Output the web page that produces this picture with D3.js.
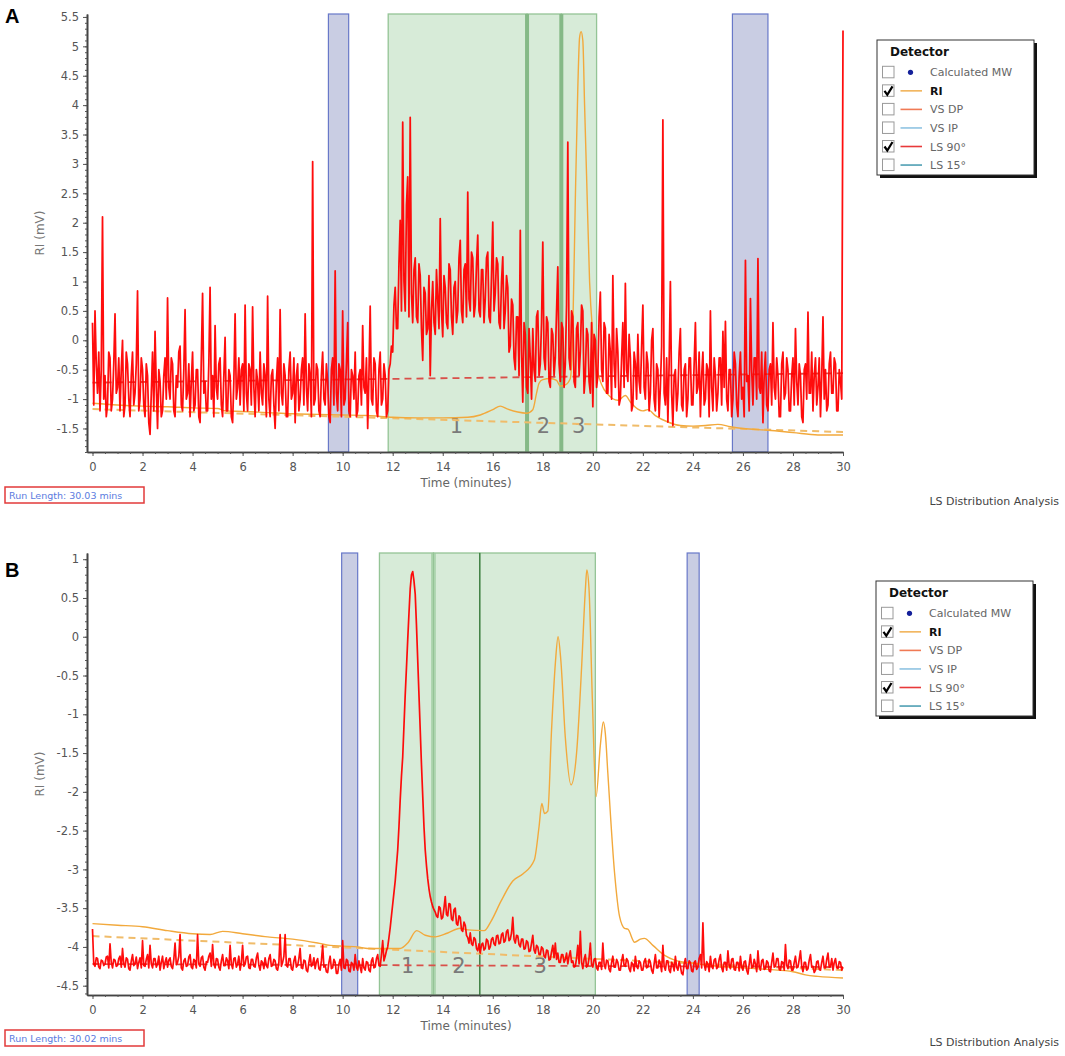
<!DOCTYPE html>
<html><head><meta charset="utf-8">
<script src="https://cdn.jsdelivr.net/npm/d3@7"></script>
<style>body{margin:0;background:#fff}svg{display:block}</style>
</head><body>
<script>
// ---------- data ----------
const xTicks = [0,2,4,6,8,10,12,14,16,18,20,22,24,26,28,30];
const yTicksA = [-1.5,-1,-0.5,0,0.5,1,1.5,2,2.5,3,3.5,4,4.5,5,5.5];
const yTicksB = [-4.5,-4,-3.5,-3,-2.5,-2,-1.5,-1,-0.5,0,0.5,1];
const sampleStep = 0.05; // minutes between LS 90° samples

// Panel A, LS 90° (mV), one row per minute, samples every 0.05 min
const ls90A = [
 0.3,-1.1,0.5,-0.4,-0.9,-0.2,-1.2,-0.5,2.1,-1.0,-0.6,-1.3,-1.1,-0.2,-0.3,-1.2,-1.0,-0.4,0.45,-0.9,
 -0.8,-0.3,-1.2,-0.5,0.0,-1.3,-1.1,-0.2,-0.4,-1.0,-1.3,-0.6,-0.2,-1.1,-0.9,-0.4,0.84,-1.2,-1.0,-0.3,
 -0.5,-1.1,-1.3,-0.4,-0.6,-1.4,-1.6,-0.9,-0.2,-1.2,0.15,-0.8,-1.5,-0.5,-0.7,-1.3,-1.2,-0.6,-0.3,-1.0,
 0.72,-0.8,-1.0,-0.3,-0.4,-1.2,-1.3,-0.6,-0.8,-0.2,-0.1,-1.1,-1.2,-0.5,0.52,-1.0,-0.9,-0.4,-1.3,-0.7,
 -0.2,-1.2,-1.1,-0.5,-0.5,-1.3,-1.4,-0.3,0.8,-0.9,-0.7,-1.2,-1.2,-0.4,0.9,-1.0,-0.6,-1.3,0.25,-0.8,
 -1.0,-0.4,-0.3,-1.1,-1.3,-0.6,0.05,-1.2,-1.2,-0.5,-0.6,-1.3,-1.4,-0.7,0.45,-1.0,-0.8,-0.3,-1.1,-0.5,
 -0.4,-1.2,0.6,-0.9,-1.2,-0.4,-0.5,-1.1,0.57,-0.8,-1.3,-0.5,-0.7,-1.2,-0.2,-0.9,-1.1,-0.4,-0.6,-1.3,
 0.75,-1.0,-1.3,-0.6,-0.5,-1.1,-1.5,-0.7,-0.3,-1.2,0.52,-0.9,-1.1,-0.4,-0.6,-1.3,-1.3,-0.5,-0.2,-1.0,
 -0.9,-0.3,-1.4,-0.6,-0.4,-1.2,-1.0,-0.5,-0.3,-1.1,0.45,-0.8,-1.2,-0.4,-0.6,-1.3,3.04,-1.1,-1.0,-0.4,
 -0.5,-1.2,-1.3,-0.6,-0.2,-1.0,-1.1,-0.4,-0.7,-1.3,-1.4,-0.5,-0.3,-1.1,1.18,-0.9,-1.2,-0.4,-0.5,-1.3,
 0.5,-1.1,-1.0,-0.4,0.3,-1.2,-1.3,-0.5,-0.6,-1.0,-0.2,-1.3,-1.2,-0.6,-0.5,-1.1,0.25,-0.8,-0.9,-0.3,
 -1.5,-0.6,0.58,-1.0,-1.1,-0.3,-0.4,-1.2,-1.3,-0.5,-0.2,-1.1,-1.0,-0.4,-0.6,-1.3,-1.2,-0.5,-0.4,-0.1,
 -0.2,0.6,0.9,0.2,0.2,1.3,2.04,0.5,3.71,1.0,0.5,2.3,2.78,0.4,3.79,0.8,0.3,1.2,1.4,0.4,
 0.3,1.3,1.1,0.2,-0.34,0.9,0.8,0.1,0.2,1.1,-0.6,0.5,1.0,0.3,0.1,1.2,0.7,0.2,2.07,0.5,
 0.06,1.1,0.9,0.3,0.2,1.3,1.2,0.4,0.1,0.9,1.0,0.3,0.5,1.4,1.7,0.5,0.3,1.2,1.3,0.4,
 2.52,0.7,0.5,1.5,1.4,0.4,0.6,1.3,1.79,0.5,0.4,1.2,1.2,0.3,0.7,1.4,1.5,0.4,0.3,1.1,
 2.01,0.5,0.8,1.4,1.3,0.3,0.2,1.0,1.42,0.2,0.5,1.1,0.9,-0.2,-0.1,0.7,0.6,-0.3,-0.5,0.4,
 0.4,-0.6,1.87,-0.2,-1.05,0.3,0.1,-0.8,-0.9,0.2,-0.3,-1.0,0.2,-0.5,-0.7,0.4,0.5,-0.6,-0.4,0.3,
 1.67,-0.3,-0.5,0.4,0.3,-0.7,-0.8,0.2,0.1,-0.6,-0.3,0.5,1.25,-0.4,-0.7,0.3,0.2,-0.8,-0.4,0.6,
 3.37,-0.3,-0.5,0.5,0.4,-0.7,-0.8,0.2,0.3,-0.6,-0.2,0.6,0.5,-0.9,-0.6,0.2,0.1,-0.7,-0.9,0.3,
 -1.13,0.1,0.0,-0.8,-0.6,0.4,0.82,-0.5,-0.7,0.3,0.2,-0.9,-0.9,0.1,-0.2,-1.0,1.1,-0.4,-0.8,0.2,
 -0.2,-1.1,-1.0,-0.3,0.3,-0.8,0.97,-0.5,-0.7,0.1,-0.3,-1.2,-1.1,-0.2,-0.4,-1.0,0.1,-0.7,-0.9,-0.1,
 0.6,-0.8,-1.0,-0.2,-0.4,-1.2,-0.9,0.0,0.2,-1.0,-1.2,-0.4,-0.5,-1.3,-0.8,-0.1,3.75,-0.9,-1.1,-0.3,
 -1.39,-0.4,1.0,-0.9,-1.45,-0.6,-0.5,-1.2,-0.9,-0.2,0.2,-1.1,-1.2,-0.5,-0.4,-1.3,-1.0,-0.3,-0.3,-1.1,
 -1.1,-0.4,0.3,-0.9,-0.8,-0.2,-1.3,-0.6,-0.2,-1.1,-1.0,-0.4,-0.5,-1.3,0.5,-0.8,-1.2,-0.3,-0.6,-1.2,
 -0.9,-0.3,-0.3,-1.1,0.15,-0.8,0.32,-1.0,-1.2,-0.5,-0.5,-1.3,-1.0,-0.2,-0.4,-1.1,-1.3,-0.6,-0.2,-1.0,
 -0.8,-1.3,1.36,-0.7,-0.6,-1.2,0.71,-0.5,-1.1,-0.3,-0.3,-1.0,1.39,-0.8,-0.9,-0.2,-1.4,-0.6,-0.2,-1.1,
 -1.2,-0.5,-0.4,-1.1,0.3,-0.8,-1.0,-0.3,-0.6,-1.3,-1.3,-0.4,-0.2,-1.0,-0.9,-0.3,-0.5,-1.2,-1.2,-0.6,
 -0.3,-1.1,0.2,-0.7,-1.1,-0.4,-0.6,-1.3,-1.4,-0.5,-0.4,-1.0,0.48,-0.9,-0.9,-0.2,-1.2,-0.6,-0.3,-1.1,
 -0.8,-0.3,-1.3,-0.6,0.4,-1.0,-0.5,-1.2,-1.1,-0.4,-0.2,-0.9,-0.9,-0.3,-0.4,-1.2,-1.2,-0.5,-0.7,-1.0,
 5.27
];

// Panel B, LS 90° (mV), one row per minute, samples every 0.05 min
const ls90B = [
 -3.77,-4.22,-4.25,-4.14,-4.15,-4.26,-4.28,-4.17,-4.18,-4.24,-4.22,-4.13,-4.12,-4.27,-3.96,-4.2,-4.27,-4.16,-4.17,-4.25,
 -4.24,-4.15,-4.12,-4.26,-4.02,-4.22,-4.26,-4.14,-4.16,-4.28,-4.3,-4.18,-4.1,-4.24,-4.22,-4.13,-4.28,-4.2,-4.14,-4.27,
 -3.92,-4.24,-4.25,-4.16,-4.1,-4.27,-3.98,-4.22,-4.27,-4.15,-4.15,-4.26,-4.22,-4.12,-4.3,-4.2,-4.12,-4.28,-4.2,-4.14,
 -4.26,-4.17,-4.14,-4.25,-4.28,-4.16,-3.95,-4.23,-4.2,-4.12,-3.84,-4.27,-4.3,-4.18,-4.15,-4.25,-4.24,-4.13,-4.1,-4.26,
 -4.28,-4.16,-4.18,-4.27,-3.84,-4.22,-4.25,-4.14,-4.12,-4.26,-4.3,-4.19,-4.2,-4.12,-4.08,-4.25,-3.97,-4.22,-4.27,-4.15,
 -4.16,-4.26,-4.3,-4.18,-4.1,-4.24,-4.24,-4.14,-4.18,-4.28,-3.98,-4.22,-4.28,-4.15,-4.14,-4.26,-4.22,-4.12,-4.3,-4.2,
 -3.98,-4.25,-4.22,-4.13,-4.12,-4.27,-4.28,-4.16,-4.16,-4.25,-4.26,-4.14,-4.08,-4.24,-4.3,-4.18,-4.2,-4.28,-4.14,-4.24,
 -4.27,-4.15,-4.1,-4.25,-4.24,-4.16,-4.18,-4.28,-4.3,-4.2,-3.84,-4.25,-4.2,-4.12,-3.84,-4.24,-4.26,-4.15,-4.15,-4.28,
 -4.3,-4.18,-4.12,-4.26,-4.24,-4.15,-4.02,-4.27,-4.28,-4.17,-4.18,-4.3,-4.32,-4.2,-4.1,-4.25,-4.22,-4.14,-4.28,-4.19,
 -4.15,-4.28,-4.3,-4.18,-3.98,-4.26,-4.24,-4.32,-4.33,-4.2,-4.12,-4.28,-4.27,-4.16,-4.2,-4.34,-4.34,-4.22,-4.16,-4.3,
 -3.92,-4.27,-4.28,-4.16,-4.18,-4.31,-4.32,-4.2,-4.22,-4.3,-4.1,-4.26,-4.3,-4.18,-4.26,-4.33,-4.15,-4.27,-4.3,-4.19,
 -4.2,-4.3,-4.32,-4.18,-4.14,-4.27,-4.26,-4.15,-4.1,-4.24,-4.25,-4.1,-3.92,-4.18,-4.12,-4.05,-4.0,-3.88,-3.75,-3.6,
 -3.45,-3.3,-3.15,-2.95,-2.75,-2.45,-2.1,-1.8,-1.55,-1.15,-0.75,-0.4,-0.04,0.3,0.62,0.8,0.84,0.72,0.55,0.15,
 -0.3,-0.75,-1.2,-1.65,-2.05,-2.45,-2.75,-2.95,-3.12,-3.25,-3.35,-3.42,-3.48,-3.52,-3.55,-3.6,-3.62,-3.48,-3.5,-3.64,
 -3.62,-3.5,-3.35,-3.58,-3.6,-3.44,-3.45,-3.64,-3.66,-3.52,-3.5,-3.7,-3.72,-3.6,-3.62,-3.78,-3.8,-3.68,-3.72,-3.85,
 -3.88,-3.95,-3.82,-3.96,-3.98,-3.88,-3.9,-4.02,-4.05,-3.96,-4.08,-3.97,-3.95,-4.04,-4.02,-3.9,-3.92,-4.03,-4.0,-3.9,
 -3.88,-3.96,-3.98,-3.86,-3.85,-3.96,-3.95,-3.84,-3.82,-3.94,-3.92,-3.8,-3.78,-3.92,-3.9,-3.82,-3.62,-3.9,-3.95,-3.85,
 -3.86,-3.97,-4.0,-3.9,-3.9,-4.03,-4.02,-3.92,-3.94,-4.06,-4.05,-3.95,-3.85,-4.04,-4.08,-3.98,-4.0,-4.1,-4.1,-4.0,
 -4.02,-4.12,-4.14,-4.04,-4.05,-4.17,-4.16,-4.06,-3.98,-4.14,-3.95,-4.16,-4.08,-4.2,-4.2,-4.1,-4.1,-4.2,-4.16,-4.08,
 -4.22,-4.12,-4.05,-4.2,-4.18,-4.26,-4.25,-4.14,-3.98,-4.22,-3.8,-4.2,-4.28,-4.16,-4.1,-4.26,-4.24,-4.14,-3.95,-4.23,
 -4.26,-4.16,-4.15,-4.27,-4.3,-4.2,-4.2,-4.29,-3.95,-4.22,-4.28,-4.17,-4.18,-4.29,-4.32,-4.2,-4.12,-4.26,-4.26,-4.16,
 -4.2,-4.3,-4.3,-4.18,-4.1,-4.24,-4.25,-4.15,-4.18,-4.28,-4.32,-4.2,-4.22,-4.31,-4.12,-4.25,-4.28,-4.18,-4.2,-4.3,
 -4.3,-4.19,-4.15,-4.27,-4.26,-4.16,-4.2,-4.3,-4.34,-4.22,-4.1,-4.27,-4.27,-4.17,-4.22,-4.32,-3.98,-4.25,-4.3,-4.18,
 -4.18,-4.3,-4.33,-4.2,-4.22,-4.31,-4.12,-4.26,-4.3,-4.19,-4.25,-4.34,-4.36,-4.22,-4.15,-4.28,-4.28,-4.18,-4.2,-4.31,
 -4.32,-4.2,-4.18,-4.29,-4.26,-4.15,-4.1,-4.27,-3.69,-4.22,-4.3,-4.19,-4.22,-4.32,-4.12,-4.25,-4.28,-4.17,-4.15,-4.28,
 -4.26,-4.16,-4.1,-4.27,-4.32,-4.2,-4.2,-4.3,-4.05,-4.24,-4.28,-4.16,-4.15,-4.29,-4.3,-4.2,-4.2,-4.31,-4.12,-4.26,
 -4.3,-4.19,-4.18,-4.3,-4.35,-4.22,-4.1,-4.27,-4.26,-4.16,-4.22,-4.32,-4.05,-4.25,-4.3,-4.18,-4.16,-4.29,-4.28,-4.18,
 -4.2,-4.31,-4.32,-4.2,-4.08,-4.26,-4.25,-4.15,-4.15,-4.29,-4.3,-4.19,-4.2,-4.3,-3.97,-4.24,-4.28,-4.17,-4.18,-4.3,
 -4.3,-4.2,-4.12,-4.27,-4.26,-4.16,-4.05,-4.25,-4.32,-4.2,-4.2,-4.3,-4.28,-4.17,-4.1,-4.26,-4.25,-4.33,-4.3,-4.19,
 -4.18,-4.29,-4.3,-4.2,-4.12,-4.27,-4.27,-4.16,-4.08,-4.26,-4.25,-4.15,-4.3,-4.2,-4.15,-4.27,-4.28,-4.19,-4.2,-4.3,
 -4.26
];

// RI traces: [time (min), mV]
const riA = [[0,-1.07],[1,-1.1],[2,-1.12],[3,-1.13],[4,-1.15],[5,-1.16],[5.3,-1.2],[6,-1.21],[7,-1.23],[8,-1.25],[9,-1.26],[10,-1.27],[11,-1.28],[12,-1.31],[13,-1.32],[14,-1.32],[15,-1.31],[15.5,-1.27],[16,-1.18],[16.3,-1.12],[16.6,-1.17],[17,-1.22],[17.35,-1.24],[17.6,-1.18],[17.75,-0.9],[17.85,-0.73],[18.0,-0.67],[18.3,-0.65],[18.55,-0.68],[18.7,-0.78],[18.9,-0.76],[19.1,-0.65],[19.2,0.2],[19.3,2.4],[19.4,4.3],[19.47,5.15],[19.53,5.25],[19.6,5.1],[19.67,4.0],[19.75,2.8],[19.87,1.0],[20.0,0.1],[20.15,-0.45],[20.35,-0.75],[20.6,-0.92],[21.0,-1.02],[21.3,-0.94],[21.5,-1.05],[21.8,-1.17],[22.0,-1.2],[22.2,-1.18],[22.5,-1.28],[23.0,-1.39],[23.5,-1.45],[24,-1.46],[24.5,-1.45],[25,-1.43],[25.5,-1.47],[26,-1.5],[27,-1.53],[28,-1.57],[29,-1.61],[30,-1.61]];
const riB = [[0,-3.70],[1,-3.72],[2,-3.74],[3,-3.79],[4,-3.83],[4.7,-3.84],[5.2,-3.80],[6,-3.83],[7,-3.87],[8,-3.90],[9,-3.95],[9.5,-3.98],[10,-3.99],[10.6,-4.0],[11,-4.02],[12.3,-4.02],[12.6,-3.95],[12.96,-3.79],[13.3,-3.85],[13.7,-3.87],[14.2,-3.82],[14.7,-3.76],[15.0,-3.78],[15.66,-3.79],[15.93,-3.67],[16.33,-3.41],[16.8,-3.15],[17.2,-3.06],[17.66,-2.88],[17.85,-2.45],[17.96,-2.15],[18.07,-2.28],[18.2,-2.25],[18.35,-1.2],[18.5,-0.35],[18.61,0.0],[18.72,-0.3],[18.9,-1.3],[19.13,-1.91],[19.35,-1.5],[19.55,-0.4],[19.7,0.6],[19.76,0.86],[19.85,0.6],[19.98,-0.8],[20.13,-2.06],[20.3,-1.4],[20.42,-1.1],[20.5,-1.25],[20.6,-1.76],[20.87,-3.05],[21.07,-3.61],[21.27,-3.76],[21.4,-3.77],[21.67,-3.94],[21.9,-3.9],[22.06,-3.89],[22.4,-3.98],[22.87,-4.11],[23.27,-4.17],[24,-4.21],[25,-4.25],[26,-4.27],[27,-4.29],[28,-4.32],[28.5,-4.36],[29,-4.38],[30,-4.4]];

// dashed baselines [time, mV]
const baseLsA = [[0,-0.72],[30,-0.56]];
const baseRiA = [[0,-1.17],[30,-1.56]];
const baseLsB = [[0,-4.22],[30,-4.26]];
const baseRiB = [[0,-3.86],[30,-4.3]];

// shaded ranges [start, end] in minutes
const blueA = [[9.43,10.24],[25.58,27.0]];
const greenA = [[11.82,17.37],[17.37,18.74],[18.74,20.15]];
const blueB = [[9.96,10.6],[23.77,24.25]];
const greenB = [[11.47,13.63],[13.63,15.48],[15.48,20.1]];
const peakLabelsA = [[14.55,"1"],[18.03,"2"],[19.43,"3"]];
const peakLabelsB = [[12.6,"1"],[14.65,"2"],[17.9,"3"]];

const legendItems = [
  {label:"Calculated MW", checked:false, color:"#14209a", dot:true},
  {label:"RI", checked:true, color:"#f2b45a", bold:true},
  {label:"VS DP", checked:false, color:"#f07a55"},
  {label:"VS IP", checked:false, color:"#8fc3e2"},
  {label:"LS 90°", checked:true, color:"#e8393a"},
  {label:"LS 15°", checked:false, color:"#4f9fb3"}
];

// ---------- drawing ----------
const svg = d3.select("body").append("svg")
  .attr("width",1065).attr("height",1056)
  .style("font-family","'DejaVu Sans', sans-serif");

function drawPanel(p){
  const x = d3.scaleLinear().domain([-0.22,30]).range([87,843]);
  const y = d3.scaleLinear().domain(p.yDom).range([p.bottom,p.top]);
  const g = svg.append("g");

  g.selectAll(null).data(p.green).join("rect")
    .attr("x",d=>x(d[0])).attr("width",d=>x(d[1])-x(d[0]))
    .attr("y",p.top).attr("height",p.bottom-p.top)
    .attr("fill","#d7ebd8").attr("stroke","#94c496").attr("stroke-width",1.3);
  p.dividers.forEach(dv=>{
    g.append("line").attr("x1",x(dv.t)).attr("x2",x(dv.t))
      .attr("y1",p.top).attr("y2",p.bottom)
      .attr("stroke",dv.color).attr("stroke-width",dv.w);
  });
  g.selectAll(null).data(p.blue).join("rect")
    .attr("x",d=>x(d[0])).attr("width",d=>x(d[1])-x(d[0]))
    .attr("y",p.top).attr("height",p.bottom-p.top)
    .attr("fill","#c9cde3").attr("stroke","#6878c8").attr("stroke-width",1.2);

  g.selectAll(null).data(p.labels).join("text")
    .attr("x",d=>x(d[0])).attr("y",y(p.labelY))
    .attr("text-anchor","middle").attr("font-size",21)
    .attr("fill","#7a7a7a").text(d=>d[1]);

  const line = d3.line().x(d=>x(d[0])).y(d=>y(d[1]));
  g.append("path").attr("d",line(p.baseRi)).attr("fill","none")
    .attr("stroke","#f0bc6a").attr("stroke-width",2).attr("stroke-dasharray","7,5");
  g.append("path").attr("d",line(p.baseLs)).attr("fill","none")
    .attr("stroke","#d9504a").attr("stroke-width",1.8).attr("stroke-dasharray","7,5");

  const riLine = d3.line().x(d=>x(d[0])).y(d=>y(d[1])).curve(d3.curveMonotoneX);
  g.append("path").attr("d",riLine(p.ri)).attr("fill","none")
    .attr("stroke","#f2a93c").attr("stroke-width",1.4);

  const lsLine = d3.line().x((d,i)=>x(i*sampleStep)).y(d=>y(d));
  g.append("path").attr("d",lsLine(p.ls)).attr("fill","none")
    .attr("stroke","#ff0000").attr("stroke-width",p.lsWidth).attr("stroke-opacity",0.95)
    .attr("stroke-linejoin","round");

  const yAx = g.append("g").attr("transform","translate(87,0)")
    .call(d3.axisLeft(y).tickValues(p.yTicks).tickFormat(d=>String(d)).tickSize(4).tickSizeOuter(0));
  const yMinor = g.append("g").attr("transform","translate(87,0)")
    .call(d3.axisLeft(y).tickValues(d3.range(Math.ceil(p.yDom[0]*10), Math.floor(p.yDom[1]*10)+1).map(v=>v/10)).tickFormat("").tickSize(2).tickSizeOuter(0));
  const xAx = g.append("g").attr("transform",`translate(0,${p.bottom})`)
    .call(d3.axisBottom(x).tickValues(xTicks).tickFormat(d=>String(d)).tickSize(4).tickSizeOuter(0));
  const xMinor = g.append("g").attr("transform",`translate(0,${p.bottom})`)
    .call(d3.axisBottom(x).tickValues(d3.range(0,61).map(v=>v/2)).tickFormat("").tickSize(2).tickSizeOuter(0));
  [yAx,yMinor,xAx,xMinor].forEach(a=>{
    a.select(".domain").attr("stroke","#444").attr("stroke-width",1.6);
    a.selectAll(".tick line").attr("stroke","#555");
    a.selectAll("text").attr("font-family","'DejaVu Sans', sans-serif").attr("font-size",11.5).attr("fill","#555");
  });
  yAx.selectAll("text").attr("x",-8);
  xAx.selectAll("text").attr("dy","1.0em");

  g.append("text").attr("transform",`translate(44,${(p.top+p.bottom)/2}) rotate(-90)`)
    .attr("text-anchor","middle").attr("font-size",12).attr("fill","#777").text("RI (mV)");
  g.append("text").attr("x",466).attr("y",p.bottom+35)
    .attr("text-anchor","middle").attr("font-size",12).attr("fill","#666").text("Time (minutes)");

  g.append("text").attr("x",5).attr("y",p.top+p.letterDy)
    .attr("font-family","'Liberation Sans', Arial, sans-serif").attr("font-weight","bold")
    .attr("font-size",20).attr("fill","#000").text(p.letter);

  g.append("rect").attr("x",5).attr("y",p.runY).attr("width",139).attr("height",16)
    .attr("fill","#fff").attr("stroke","#e23a3a").attr("stroke-width",1.5);
  g.append("text").attr("x",9).attr("y",p.runY+11.5).attr("font-size",9.5)
    .attr("fill","#5b7be0").text(p.runText);

  g.append("text").attr("x",1059).attr("y",p.footY).attr("text-anchor","end")
    .attr("font-size",11).attr("fill","#444").text("LS Distribution Analysis");

  const lx = p.legX, ly = p.legY, lw = 157, lh = 135;
  const L = svg.append("g");
  L.append("rect").attr("x",lx+3).attr("y",ly+3).attr("width",lw).attr("height",lh).attr("fill","#111");
  L.append("rect").attr("x",lx).attr("y",ly).attr("width",lw).attr("height",lh)
    .attr("fill","#fff").attr("stroke","#333").attr("stroke-width",1);
  L.append("text").attr("x",lx+13).attr("y",ly+16).attr("font-weight","bold")
    .attr("font-size",12).attr("fill","#111").text("Detector");
  legendItems.forEach((it,i)=>{
    const cy = ly + 32.3 + i*18.55;
    L.append("rect").attr("x",lx+5.5).attr("y",cy-6).attr("width",11.5).attr("height",11.5)
      .attr("fill","#fff").attr("stroke","#9a9a9a").attr("stroke-width",1);
    if(it.checked){
      L.append("path").attr("d",`M${lx+7.5},${cy} L${lx+10.3},${cy+4} L${lx+15.5},${cy-4.5}`)
        .attr("fill","none").attr("stroke","#000").attr("stroke-width",2.2);
    }
    if(it.dot){
      L.append("circle").attr("cx",lx+33.5).attr("cy",cy).attr("r",2.6).attr("fill",it.color);
    } else {
      L.append("line").attr("x1",lx+23.5).attr("x2",lx+45).attr("y1",cy).attr("y2",cy)
        .attr("stroke",it.color).attr("stroke-width",1.6);
    }
    L.append("text").attr("x",lx+53).attr("y",cy+4).attr("font-size",11)
      .attr("font-weight",it.bold?"bold":"normal")
      .attr("fill",it.bold?"#111":"#666").text(it.label);
  });
}

drawPanel({
  top:14, bottom:452, yDom:[-1.9,5.55], yTicks:yTicksA,
  ls:ls90A, ri:riA, baseLs:baseLsA, baseRi:baseRiA, lsWidth:1.75,
  blue:blueA, green:greenA,
  dividers:[{t:17.37,color:"#85b987",w:4},{t:18.74,color:"#85b987",w:4}],
  labels:peakLabelsA, labelY:-1.57,
  letter:"A", letterDy:9, runY:487, runText:"Run Length: 30.03 mins",
  footY:505, legX:877, legY:40
});
drawPanel({
  top:553, bottom:995, yDom:[-4.62,1.08], yTicks:yTicksB,
  ls:ls90B, ri:riB, baseLs:baseLsB, baseRi:baseRiB, lsWidth:1.7,
  blue:blueB, green:greenB,
  dividers:[{t:13.57,color:"#9ccb9e",w:1.3},{t:13.69,color:"#9ccb9e",w:1.3},{t:15.48,color:"#3f7f43",w:1.4}],
  labels:peakLabelsB, labelY:-4.34,
  letter:"B", letterDy:24, runY:1030, runText:"Run Length: 30.02 mins",
  footY:1046, legX:876, legY:581
});
</script>
</body></html>
